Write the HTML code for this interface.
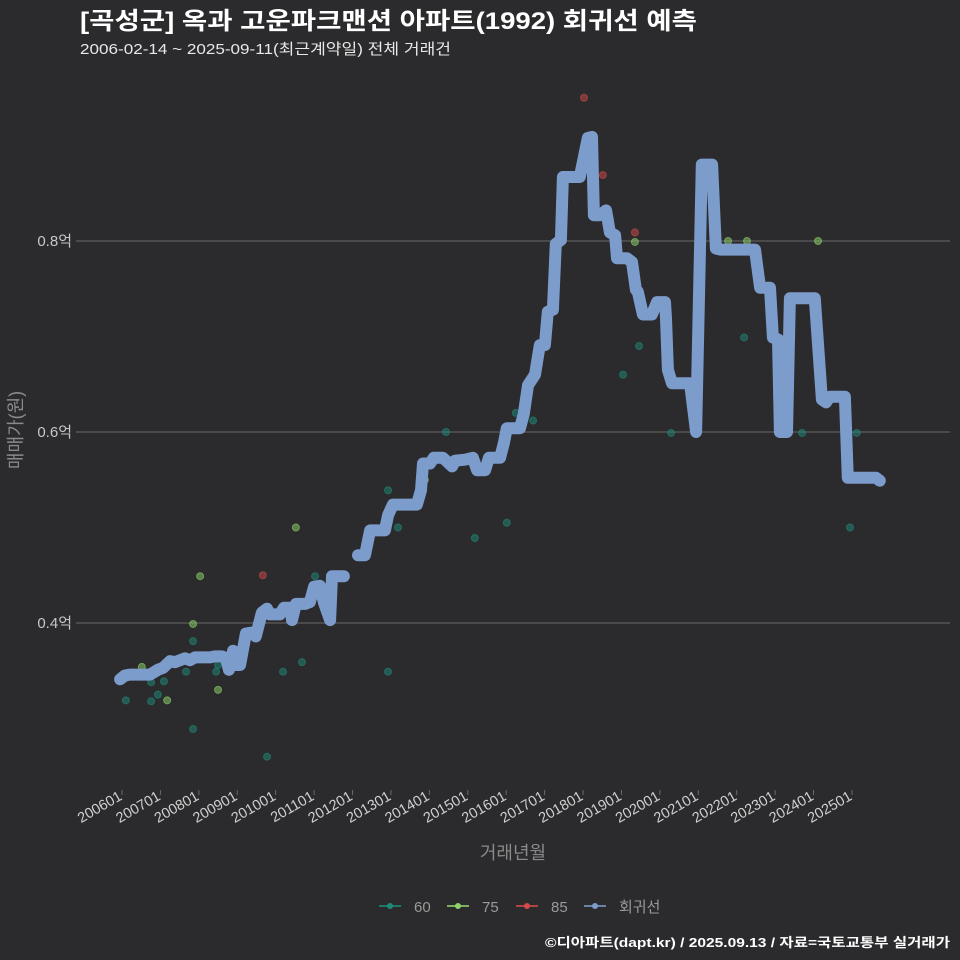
<!DOCTYPE html>
<html><head><meta charset="utf-8">
<style>
body{margin:0;background:#2b2a2c;}
svg{display:block;font-family:"Liberation Sans","Noto Sans CJK KR",sans-serif;}
</style></head>
<body>
<svg id="chart" width="960" height="960" viewBox="0 0 960 960">
<rect width="960" height="960" fill="#2b2a2c"/>
<text x="80" y="29" fill="#ffffff" font-size="24" font-weight="bold" textLength="617" lengthAdjust="spacingAndGlyphs">[곡성군] 옥과 고운파크맨션 아파트(1992) 회귀선 예측</text>
<text x="80" y="54" fill="#e8e8e8" font-size="15" textLength="371" lengthAdjust="spacingAndGlyphs">2006-02-14 ~ 2025-09-11(최근계약일) 전체 거래건</text>
<g id="grid"></g>
<g id="points"></g>
<g id="line"></g>
<g id="axes"></g>
<text transform="translate(22,430) rotate(-90)" text-anchor="middle" fill="#8a8a8a" font-size="18">매매가(원)</text>
<text x="513" y="859" text-anchor="middle" fill="#8a8a8a" font-size="18">거래년월</text>
<g id="legend"></g>
<text x="950" y="947" text-anchor="end" fill="#ffffff" font-size="13" font-weight="bold" textLength="405" lengthAdjust="spacingAndGlyphs">©디아파트(dapt.kr) / 2025.09.13 / 자료=국토교통부 실거래가</text>
</svg>
<script>
// months since 2006-01 and values in 억
const lineMonth=[-0.6,0.9,2.5,8.7,11.2,12.8,15.0,16.6,18.1,19.7,21.2,22.8,27.5,29.0,31.2,32.5,33.4,34.7,35.6,36.9,38.7,40.6,41.8,43.7,45.3,46.2,49.3,50.6,52.5,53.1,54.3,57.2,58.7,60.0,61.8,63.1,65.0,65.6,69.3,null,73.7,75.9,77.5,82.1,83.1,84.6,92.1,93.4,94.0,96.2,97.4,100.2,101.5,103.1,104.0,107.1,109.6,110.9,113.4,114.6,118.1,119.3,120.2,124.3,125.5,126.8,129.0,130.5,132.1,133.0,134.6,135.5,137.1,137.7,139.9,143.0,145.5,146.8,147.4,149.3,151.2,152.4,154.0,154.6,157.7,159.3,160.5,161.1,162.7,165.5,167.1,169.6,169.9,170.5,171.8,177.4,179.3,181.1,184.3,185.5,186.8,197.7,199.3,202.4,203.3,204.9,205.5,207.7,208.6,216.4,218.6,219.9,221.1,225.8,226.7,235.5,236.7];
const lineValue=[0.341,0.345,0.346,0.346,0.351,0.353,0.360,0.359,0.361,0.363,0.361,0.364,0.364,0.365,0.365,0.363,0.351,0.371,0.356,0.356,0.389,0.390,0.386,0.411,0.415,0.409,0.409,0.416,0.416,0.403,0.420,0.420,0.422,0.438,0.439,0.421,0.403,0.449,0.449,null,0.471,0.471,0.497,0.497,0.513,0.524,0.524,0.539,0.567,0.567,0.573,0.573,0.569,0.564,0.570,0.571,0.573,0.560,0.560,0.573,0.573,0.589,0.604,0.604,0.619,0.649,0.660,0.691,0.691,0.726,0.728,0.797,0.801,0.867,0.867,0.867,0.908,0.909,0.827,0.827,0.832,0.809,0.806,0.782,0.782,0.778,0.749,0.747,0.723,0.723,0.736,0.736,0.719,0.665,0.651,0.651,0.600,0.880,0.880,0.792,0.791,0.791,0.751,0.751,0.699,0.697,0.600,0.600,0.740,0.740,0.634,0.631,0.637,0.637,0.552,0.552,0.549];
const ptMonth=[1.2,6.2,9.1,9.1,11.2,13.1,14.1,20.0,22.2,22.2,22.2,24.4,29.4,30.0,30.0,44.0,45.3,50.3,54.3,56.2,60.3,83.1,83.1,86.2,94.6,101.2,110.2,120.2,123.0,128.4,144.3,150.2,156.5,160.2,160.2,161.5,171.5,189.3,194.3,195.2,212.4,217.4,227.4,229.5];
const ptValue=[0.319,0.354,0.338,0.318,0.325,0.339,0.319,0.349,0.381,0.399,0.289,0.449,0.349,0.356,0.330,0.450,0.260,0.349,0.500,0.359,0.449,0.539,0.349,0.500,0.550,0.600,0.489,0.505,0.620,0.612,0.950,0.869,0.660,0.809,0.799,0.690,0.599,0.800,0.699,0.800,0.599,0.800,0.500,0.599];
const ptArea=[60,75,60,60,60,60,75,60,60,75,60,75,60,60,75,85,60,60,75,60,60,60,60,60,75,60,60,60,60,60,85,85,60,85,75,60,60,75,60,75,60,75,60,60];
const yTicks=[0.4,0.6,0.8];
const yTickLabels=["0.4억","0.6억","0.8억"];
const xTickLabels=["200601","200701","200801","200901","201001","201101","201201","201301","201401","201501","201601","201701","201801","201901","202001","202101","202201","202301","202401","202501"];
const legendLabels=["60","75","85","회귀선"];

const NS="http://www.w3.org/2000/svg";
const X=m=>122+m*(38.42/12);
const Y=v=>241+(0.8-v)*955;
const colors={60:"#1f8a7a",75:"#8ed36a",85:"#d24a4a"};
function mk(tag,attrs,parent){const e=document.createElementNS(NS,tag);for(const k in attrs)e.setAttribute(k,attrs[k]);parent.appendChild(e);return e;}

const grid=document.getElementById('grid'),axes=document.getElementById('axes');
yTicks.forEach((t,i)=>{
  const l=mk('line',{x1:80,x2:950,y1:Y(t),y2:Y(t),stroke:'#6a6a6a','stroke-width':1},grid);
  
  
  const tk=mk('line',{x1:76,x2:80,y1:Y(t),y2:Y(t),stroke:'#6a6a6a'},axes);
  
  
  const tx=mk('text',{x:72,y:Y(t)+5,'text-anchor':'end',fill:'#c8c8c8','font-size':15},axes);
  tx.textContent=yTickLabels[i];
  
  
});
xTickLabels.forEach((s,i)=>{
  const x=X(i*12);
  const tk=mk('line',{x1:x,x2:x,y1:790,y2:795,stroke:'#6a6a6a'},axes);
  
  
  const tx=mk('text',{transform:`translate(${x+1},${799}) rotate(-30)`,'text-anchor':'end',fill:'#d0d0d0','font-size':14.5},axes);
  tx.textContent=s;
  
  
});

const pts=document.getElementById('points');
ptMonth.forEach((m,i)=>{
  const c=mk('circle',{cx:X(m),cy:Y(ptValue[i]),r:3.5,fill:colors[ptArea[i]],'fill-opacity':0.5,stroke:colors[ptArea[i]],'stroke-opacity':0.6},pts);
  
  
});

const lg=document.getElementById('line');
let segs=[],cur=[];
lineMonth.forEach((m,i)=>{
  if(m===null){if(cur.length)segs.push(cur);cur=[];}
  else cur.push(X(m).toFixed(1)+','+Y(lineValue[i]).toFixed(1));
});
if(cur.length)segs.push(cur);
segs.forEach(s=>{
  const p=mk('polyline',{points:s.join(' '),fill:'none',stroke:'#7c9ccb','stroke-width':12,'stroke-linejoin':'round','stroke-linecap':'round'},lg);
  
  
});

const leg=document.getElementById('legend');
const legX=[379,447,516,584];
const legC=[colors[60],colors[75],colors[85],'#7c9ccb'];
legendLabels.forEach((s,i)=>{
  const g=mk('g',{},leg);
  
  
  mk('line',{x1:legX[i],x2:legX[i]+22,y1:906,y2:906,stroke:legC[i],'stroke-width':2,'stroke-opacity':0.8},g);
  mk('circle',{cx:legX[i]+11,cy:906,r:3,fill:legC[i]},g);
  const t=mk('text',{x:legX[i]+35,y:912,fill:'#9a9a9a','font-size':15},g);
  t.textContent=s;
});
</script>
</body></html>
